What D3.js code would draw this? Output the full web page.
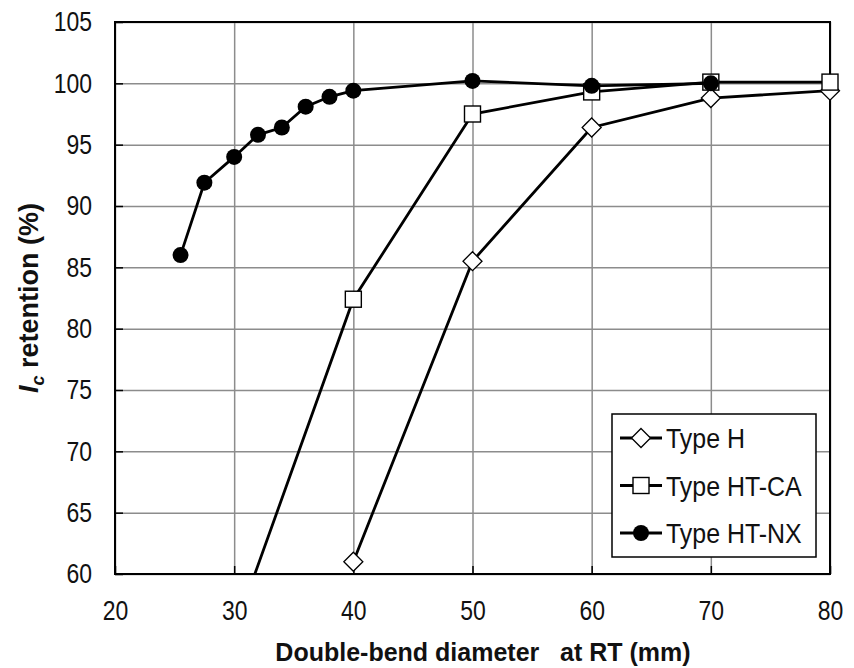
<!DOCTYPE html>
<html>
<head>
<meta charset="utf-8">
<script src="https://cdn.jsdelivr.net/npm/d3@7"></script>
<style>
  body { margin: 0; background: #fff; }
  text { font-family: "Liberation Sans", Arial, sans-serif; }
</style>
</head>
<body>
<svg id="chart" width="854" height="668"></svg>
<script>
// values
const xTicks = [20, 30, 40, 50, 60, 70, 80];
const yTicks = [60, 65, 70, 75, 80, 85, 90, 95, 100, 105];

const typeH_x = [40, 50, 60, 70, 80];
const typeH_y = [61.0, 85.5, 96.4, 98.8, 99.4];

const typeHTCA_x = [30, 40, 50, 60, 70, 80];
const typeHTCA_y = [55.3, 82.4, 97.5, 99.3, 100.1, 100.1];

const typeHTNX_x = [25.5, 27.5, 30, 32, 34, 36, 38, 40, 50, 60, 70];
const typeHTNX_y = [86.0, 91.9, 94.0, 95.8, 96.4, 98.1, 98.9, 99.4, 100.2, 99.8, 100.0];

const seriesNames = ["Type H", "Type HT-CA", "Type HT-NX"];

const margin = { top: 22, right: 24, bottom: 94, left: 115 };
const width = 854 - margin.left - margin.right;
const height = 668 - margin.top - margin.bottom;

const svg = d3.select('#chart');
const chart = svg.append('g')
    .attr('transform', `translate(${margin.left},${margin.top})`);

const xScale = d3.scaleLinear().domain([20, 80]).range([0, width]);
const yScale = d3.scaleLinear().domain([60, 105]).range([height, 0]);

// grid
chart.append('g')
    .attr('transform', `translate(0,${height})`)
    .call(d3.axisBottom(xScale).tickValues(xTicks).tickSize(-height).tickFormat(''))
    .call(g => g.select('.domain').remove())
    .call(g => g.selectAll('line').attr('stroke', '#8c8c8c').attr('stroke-width', 1.5));
chart.append('g')
    .call(d3.axisLeft(yScale).tickValues(yTicks).tickSize(-width).tickFormat(''))
    .call(g => g.select('.domain').remove())
    .call(g => g.selectAll('line').attr('stroke', '#8c8c8c').attr('stroke-width', 1.5));

// axes with inward ticks
let xAxis = chart.append('g')
    .attr('transform', `translate(0,${height})`)
    .call(d3.axisBottom(xScale).tickValues(xTicks).tickSize(-8).tickPadding(26));
let yAxis = chart.append('g')
    .call(d3.axisLeft(yScale).tickValues(yTicks).tickSize(-8).tickPadding(23));

[xAxis, yAxis].forEach(a => {
    a.select('.domain').remove();
    a.selectAll('line').attr('stroke', '#000').attr('stroke-width', 1.5);
    a.selectAll('text').attr('font-size', 28).attr('fill', '#111')
        .style('font-family', '"Liberation Sans", Arial, sans-serif');
});
// the reference labels are narrow: squeeze them horizontally
xAxis.selectAll('text').attr('transform', 'scale(0.82,1)');
yAxis.selectAll('text').each(function () {
    let t = d3.select(this);
    let x = +t.attr('x');
    t.attr('x', 0).attr('transform', `translate(${x},0) scale(0.82,1)`);
});

// frame
chart.append('rect')
    .attr('width', width).attr('height', height)
    .attr('fill', 'none').attr('stroke', '#000').attr('stroke-width', 2);

chart.append('clipPath').attr('id', 'plot-clip')
    .append('rect').attr('width', width).attr('height', height);

const line = d3.line().x(d => xScale(d[0])).y(d => yScale(d[1]));

const series = [
    { name: seriesNames[0], pts: d3.zip(typeH_x, typeH_y), shape: 'diamond' },
    { name: seriesNames[1], pts: d3.zip(typeHTCA_x, typeHTCA_y), shape: 'square' },
    { name: seriesNames[2], pts: d3.zip(typeHTNX_x, typeHTNX_y), shape: 'circle' }
];

function drawMarker(g, shape, x, y) {
    if (shape === 'diamond') {
        g.append('path')
            .attr('d', `M${x},${y - 9.5}L${x + 9.5},${y}L${x},${y + 9.5}L${x - 9.5},${y}Z`)
            .attr('fill', '#fff').attr('stroke', '#000').attr('stroke-width', 1.3);
    } else if (shape === 'square') {
        g.append('rect')
            .attr('x', x - 8).attr('y', y - 8).attr('width', 16).attr('height', 16)
            .attr('fill', '#fff').attr('stroke', '#000').attr('stroke-width', 1.4);
    } else {
        g.append('circle')
            .attr('cx', x).attr('cy', y).attr('r', 8)
            .attr('fill', '#000');
    }
}

series.forEach(s => {
    let g = chart.append('g');
    g.append('path')
        .datum(s.pts)
        .attr('d', line)
        .attr('fill', 'none')
        .attr('stroke', '#000')
        .attr('stroke-width', 2.8)
        .attr('clip-path', 'url(#plot-clip)');
    s.pts.filter(p => p[1] >= 60).forEach(p => drawMarker(g, s.shape, xScale(p[0]), yScale(p[1])));
});

// legend
const legend = svg.append('g').attr('transform', 'translate(612,414)');
legend.append('rect')
    .attr('width', 204).attr('height', 143)
    .attr('fill', '#fff').attr('stroke', '#000').attr('stroke-width', 1.5);
series.forEach((s, i) => {
    let yy = 24 + i * 47.5;
    legend.append('line')
        .attr('x1', 8).attr('x2', 50).attr('y1', yy).attr('y2', yy)
        .attr('stroke', '#000').attr('stroke-width', 2.8);
    drawMarker(legend, s.shape, 29, yy);
    legend.append('text')
        .attr('transform', `translate(54,${yy + 10}) scale(0.89,1)`)
        .attr('font-size', 28).attr('fill', '#111')
        .text(s.name);
});

// axis titles
svg.append('text')
    .attr('x', 483).attr('y', 661)
    .attr('text-anchor', 'middle')
    .attr('font-size', 25).attr('font-weight', 'bold').attr('fill', '#111')
    .style('white-space', 'pre')
    .text('Double-bend diameter   at RT (mm)');

const yTitle = svg.append('text')
    .attr('transform', 'translate(38,298) rotate(-90)')
    .attr('text-anchor', 'middle')
    .attr('font-size', 27).attr('font-weight', 'bold').attr('fill', '#111');
yTitle.append('tspan').attr('font-style', 'italic').text('I');
yTitle.append('tspan').attr('font-style', 'italic').attr('font-size', 18).attr('dy', 6).text('c');
yTitle.append('tspan').attr('dy', -6).text(' retention (%)');
</script>
</body>
</html>
